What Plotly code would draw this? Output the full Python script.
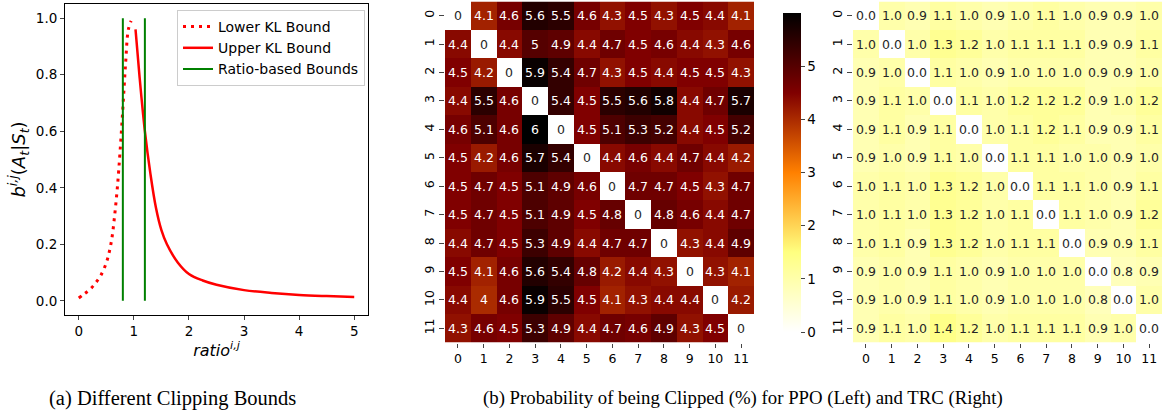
import plotly.graph_objects as go

# ---------------- data ----------------
lower_ratio = [0, 0.1, 0.2, 0.3, 0.4, 0.5, 0.55, 0.6, 0.65, 0.7, 0.75, 0.8, 0.85, 0.9, 0.95]
lower_b = [0.01, 0.025, 0.04, 0.062, 0.09, 0.135, 0.17, 0.22, 0.30, 0.40, 0.53, 0.68, 0.84, 0.96, 0.99]
upper_ratio = [1.03, 1.1, 1.2, 1.3, 1.4, 1.5, 1.6, 1.8, 2.0, 2.25, 2.5, 3.0, 3.5, 4.0, 4.5, 5.0]
upper_b = [0.96, 0.80, 0.60, 0.45, 0.33, 0.25, 0.20, 0.135, 0.095, 0.072, 0.057, 0.038, 0.028, 0.021, 0.017, 0.014]
ratio_bounds = [0.8, 1.2]
ratio_bound_span = [0.0, 1.0]

agents = list(range(12))
ppo_clip = [
    [0, 4.1, 4.6, 5.6, 5.5, 4.6, 4.3, 4.5, 4.3, 4.5, 4.4, 4.1],
    [4.4, 0, 4.4, 5, 4.9, 4.4, 4.7, 4.5, 4.6, 4.4, 4.3, 4.6],
    [4.5, 4.2, 0, 5.9, 5.4, 4.7, 4.3, 4.5, 4.4, 4.5, 4.5, 4.3],
    [4.4, 5.5, 4.6, 0, 5.4, 4.5, 5.5, 5.6, 5.8, 4.4, 4.7, 5.7],
    [4.6, 5.1, 4.6, 6, 0, 4.5, 5.1, 5.3, 5.2, 4.4, 4.5, 5.2],
    [4.5, 4.2, 4.6, 5.7, 5.4, 0, 4.4, 4.6, 4.4, 4.7, 4.4, 4.2],
    [4.5, 4.7, 4.5, 5.1, 4.9, 4.6, 0, 4.7, 4.7, 4.5, 4.3, 4.7],
    [4.5, 4.7, 4.5, 5.1, 4.9, 4.5, 4.8, 0, 4.8, 4.6, 4.4, 4.7],
    [4.4, 4.7, 4.5, 5.3, 4.9, 4.4, 4.7, 4.7, 0, 4.3, 4.4, 4.9],
    [4.5, 4.1, 4.6, 5.6, 5.4, 4.8, 4.2, 4.4, 4.3, 0, 4.3, 4.1],
    [4.4, 4, 4.6, 5.9, 5.5, 4.5, 4.1, 4.3, 4.4, 4.4, 0, 4.2],
    [4.3, 4.6, 4.5, 5.3, 4.9, 4.4, 4.7, 4.6, 4.9, 4.3, 4.5, 0],
]
trc_clip = [
    [0.0, 1.0, 0.9, 1.1, 1.0, 0.9, 1.0, 1.1, 1.0, 0.9, 0.9, 1.0],
    [1.0, 0.0, 1.0, 1.3, 1.2, 1.0, 1.1, 1.1, 1.1, 0.9, 0.9, 1.1],
    [0.9, 1.0, 0.0, 1.1, 1.0, 0.9, 1.0, 1.0, 1.0, 0.9, 0.9, 1.0],
    [0.9, 1.1, 1.0, 0.0, 1.1, 1.0, 1.2, 1.2, 1.2, 0.9, 1.0, 1.2],
    [0.9, 1.1, 0.9, 1.1, 0.0, 1.0, 1.1, 1.2, 1.1, 0.9, 0.9, 1.1],
    [0.9, 1.0, 0.9, 1.1, 1.0, 0.0, 1.1, 1.1, 1.0, 1.0, 0.9, 1.0],
    [1.0, 1.1, 1.0, 1.3, 1.2, 1.0, 0.0, 1.1, 1.1, 1.0, 0.9, 1.1],
    [1.0, 1.1, 1.0, 1.3, 1.2, 1.0, 1.1, 0.0, 1.1, 1.0, 0.9, 1.2],
    [1.0, 1.1, 0.9, 1.3, 1.2, 1.0, 1.1, 1.1, 0.0, 0.9, 0.9, 1.1],
    [0.9, 1.0, 0.9, 1.1, 1.0, 0.9, 1.0, 1.0, 1.0, 0.0, 0.8, 0.9],
    [0.9, 1.0, 0.9, 1.1, 1.0, 0.9, 1.0, 1.0, 1.0, 0.8, 0.0, 1.0],
    [0.9, 1.1, 1.0, 1.4, 1.2, 1.0, 1.1, 1.1, 1.1, 0.9, 1.0, 0.0],
]
colorbar_ticks = [0, 1, 2, 3, 4, 5]

# ---------------- styling ----------------
W, H = 1166, 415
FONT = "DejaVu Sans"
DARK_TEXT = "#262626"
afmhot_r = [
    [0.0, "rgb(255,255,255)"],
    [0.25, "rgb(255,255,128)"],
    [0.5, "rgb(255,128,0)"],
    [0.75, "rgb(128,0,0)"],
    [1.0, "rgb(0,0,0)"],
]
zmax = max(max(r) for r in ppo_clip)


def px(x0, x1):
    return [x0 / W, x1 / W]


def py(top, bottom):
    return [1 - bottom / H, 1 - top / H]


fig = go.Figure()

# ---- (a) line chart ----
fig.add_trace(go.Scatter(x=lower_ratio, y=lower_b, mode="lines", name="Lower KL Bound",
                         line=dict(color="#ff0000", width=3, dash="3px,5px", shape="spline"),
                         xaxis="x", yaxis="y"))
fig.add_trace(go.Scatter(x=upper_ratio, y=upper_b, mode="lines", name="Upper KL Bound",
                         line=dict(color="#ff0000", width=2.5, shape="spline"),
                         xaxis="x", yaxis="y"))
for i, rb in enumerate(ratio_bounds):
    fig.add_trace(go.Scatter(x=[rb, rb], y=ratio_bound_span, mode="lines", name="Ratio-based Bounds",
                             line=dict(color="#008000", width=2), showlegend=(i == 0),
                             legendgroup="rb", xaxis="x", yaxis="y"))

# ---- (b) heatmaps ----
fig.add_trace(go.Heatmap(z=ppo_clip, x=agents, y=agents, coloraxis="coloraxis",
                         xaxis="x2", yaxis="y2", hoverongaps=False))
fig.add_trace(go.Heatmap(z=trc_clip, x=agents, y=agents, coloraxis="coloraxis",
                         texttemplate="%{z:.1f}", textfont=dict(family=FONT, size=12.5, color=DARK_TEXT),
                         xaxis="x3", yaxis="y3"))

annotations = []
for i, row in enumerate(ppo_clip):
    for j, v in enumerate(row):
        annotations.append(dict(
            x=j, y=i, xref="x2", yref="y2", text=f"{v:g}", showarrow=False,
            font=dict(family=FONT, size=12.5, color=("white" if v / zmax > 0.35 else DARK_TEXT))))

annotations += [
    dict(text="(a) Different Clipping Bounds", x=172 / W, y=1 - 398 / H, xref="paper", yref="paper",
         showarrow=False, xanchor="center", yanchor="middle",
         font=dict(family="Liberation Serif", size=20.5, color="black")),
    dict(text="(b) Probability of being Clipped (%) for PPO (Left) and TRC (Right)", x=743 / W,
         y=1 - 398 / H, xref="paper", yref="paper", showarrow=False, xanchor="center",
         yanchor="middle", font=dict(family="Liberation Serif", size=18.8, color="black")),
]

tickfont = dict(family=FONT, size=13.5, color="black")
hm_tickfont = dict(family=FONT, size=12.5, color="black")

fig.update_layout(
    width=W, height=H,
    margin=dict(l=0, r=0, t=0, b=0),
    paper_bgcolor="white", plot_bgcolor="white",
    font=dict(family=FONT, color="black"),
    showlegend=True,
    legend=dict(x=177 / W, y=1 - 10 / H, xanchor="left", yanchor="top",
                bgcolor="rgba(255,255,255,0.9)", bordercolor="#cccccc", borderwidth=1,
                font=dict(family=FONT, size=14), tracegroupgap=0, itemwidth=30),
    xaxis=dict(domain=px(65, 368), range=[-0.25, 5.25], tickvals=[0, 1, 2, 3, 4, 5],
               showgrid=False, zeroline=False, showline=True, linecolor="black", linewidth=1,
               mirror=True, ticks="outside", ticklen=4, tickfont=tickfont,
               title=dict(text="<i>ratio</i><sup><i>i,j</i></sup>", font=dict(family=FONT, size=16), standoff=6),
               anchor="y"),
    yaxis=dict(domain=py(4, 315), range=[-0.05, 1.05], tickvals=[0, 0.2, 0.4, 0.6, 0.8, 1.0],
               tickformat=".1f",
               showgrid=False, zeroline=False, showline=True, linecolor="black", linewidth=1,
               mirror=True, ticks="outside", ticklen=4, tickfont=tickfont,
               title=dict(text="<i>b</i><sup><i>i,j</i></sup>(<i>A</i><sub><i>t</i></sub>|<i>S</i><sub><i>t</i></sub>)",
                          font=dict(family=FONT, size=18), standoff=5),
               anchor="x"),
    xaxis2=dict(domain=px(445, 754), range=[-0.5, 11.5], tickvals=agents, showgrid=False, zeroline=False,
                ticks="outside", ticklen=4, tickfont=hm_tickfont, anchor="y2"),
    yaxis2=dict(domain=py(1.5, 342.5), range=[11.5, -0.5], tickvals=agents, showgrid=False, zeroline=False,
                ticks="outside", ticklen=5, tickfont=hm_tickfont, tickangle=-90, anchor="x2"),
    xaxis3=dict(domain=px(853, 1162), range=[-0.5, 11.5], tickvals=agents, showgrid=False, zeroline=False,
                ticks="outside", ticklen=4, tickfont=hm_tickfont, anchor="y3"),
    yaxis3=dict(domain=py(1.5, 342.5), range=[11.5, -0.5], tickvals=agents, showgrid=False, zeroline=False,
                ticks="outside", ticklen=5, tickfont=hm_tickfont, tickangle=-90, anchor="x3"),
    coloraxis=dict(colorscale=afmhot_r, cmin=0, cmax=zmax,
                   colorbar=dict(x=773 / W, xanchor="left", y=1 - 3 / H, yanchor="top",
                                 len=339 / H, lenmode="fraction", thickness=18, outlinewidth=0,
                                 tickvals=colorbar_ticks, ticks="outside", ticklen=4,
                                 tickfont=dict(family=FONT, size=13.5, color="black"))),
    annotations=annotations,
)

fig.write_html("out.html")
